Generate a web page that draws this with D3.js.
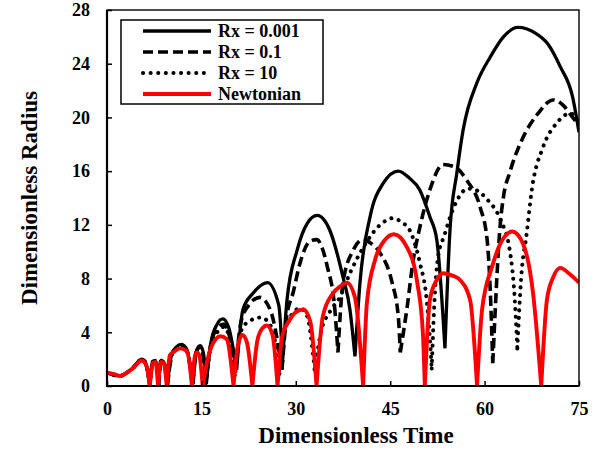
<!DOCTYPE html>
<html>
<head>
<meta charset="utf-8">
<script src="https://cdn.jsdelivr.net/npm/d3@7"></script>
<style>
  body { margin: 0; background: #fff; }
  text { font-family: "Liberation Serif", "Times New Roman", serif; font-weight: bold; }
</style>
</head>
<body>
<div id="chart"></div>
<script>
// chart data
const xTicks = [0, 15, 30, 45, 60, 75];
const yTicks = [0, 4, 8, 12, 16, 20, 24, 28];
const seriesNames = ["Rx = 0.001", "Rx = 0.1", "Rx = 10", "Newtonian"];

const rx0001T = [0, 2, 4, 5.6, 6.2, 6.8, 7.3, 7.7, 8.2, 8.6, 9.0, 9.6, 10.3, 11, 11.8, 12.6, 13.7, 14.2, 14.8, 15.3, 15.8,
  16.5, 17.5, 18.4, 19.3, 20.6, 21.6, 23.2, 25.5, 27.3, 27.9, 28.6, 30.2, 31.8, 33.4, 35.4, 37.5, 38.6, 39.4,
  40.2, 41.8, 43.9, 46.3, 48, 49.7, 51.3, 52.4, 53.7, 54.5, 55.6, 56.6, 58.8, 60.9, 63, 65.3, 68, 70, 72, 74, 75];
const rx0001R = [1.0, 0.75, 1.3, 2.0, 1.6, 0.1, 1.8, 1.9, 0.1, 1.9, 1.8, 0.1, 2.4, 2.9, 3.1, 2.8, 0.2, 2.6, 3.0, 2.5, 0.2,
  3.2, 4.6, 5.0, 4.4, 1.2, 5.7, 6.9, 7.7, 6.0, 1.8, 6.4, 10.1, 12.1, 12.7, 11.6, 8.1, 5.7, 2.2,
  7.7, 12.6, 15.1, 16.0, 15.5, 14.6, 12.6, 10.9, 2.8, 11.6, 15.9, 19.1, 22.6, 24.5, 26.0, 26.7, 26.3, 25.5, 23.8, 21.5, 18.9];

const rx01T = [0, 2, 4, 5.6, 6.2, 6.8, 7.3, 7.7, 8.2, 8.6, 9.0, 9.6, 10.3, 11, 11.8, 12.6, 13.6, 14.2, 14.7, 15.2, 15.7,
  16.5, 17.5, 18.5, 19.3, 20.4, 21.3, 22.5, 24.3, 26, 27.8, 28.5, 29.6, 30.7, 32.3, 33.3, 35, 36.2, 36.7,
  37.5, 39.1, 40.7, 42, 43.4, 45.3, 46.3, 46.6, 47.7, 48.6, 49.7, 51.3, 53.4, 55.3, 57.2, 59.3, 60.4, 60.9, 61.3,
  62.5, 63, 64, 66.1, 68.5, 70.9, 72.5, 74, 75];
const rx01R = [1.0, 0.75, 1.3, 2.0, 1.6, 0.1, 1.8, 1.9, 0.1, 1.9, 1.8, 0.1, 2.3, 2.8, 3.0, 2.7, 0.2, 2.5, 2.9, 2.4, 0.2,
  3.1, 4.3, 4.6, 4.0, 1.0, 4.8, 6.0, 6.6, 5.6, 1.2, 5.0, 7.0, 9.2, 10.8, 10.9, 8.9, 5.7, 2.5,
  7.7, 10.1, 10.9, 10.6, 9.9, 7.7, 5.1, 2.5, 5.9, 9.2, 11.8, 14.6, 16.5, 16.3, 15.3, 13.3, 10.9, 7.1, 1.7,
  12.1, 14.1, 15.9, 18.5, 20.3, 21.3, 20.9, 20.0, 19.4];

const rx10T = [0, 2, 4, 5.6, 6.2, 6.8, 7.3, 7.7, 8.2, 8.6, 9.0, 9.6, 10.3, 11, 11.8, 12.6, 13.6, 14.2, 14.7, 15.2, 15.7,
  16.5, 17.5, 18.6, 19.4, 20.3, 21.2, 22.5, 24.5, 26.2, 27.4, 28.2, 29.5, 30.7, 31.8, 33, 34, 35.5, 37, 38.6,
  40.7, 43.4, 45.5, 46.8, 48.1, 49.7, 50.8, 51.3, 51.6, 52, 52.6, 53.6, 55.1, 57.4, 58.6, 60.4, 62.5, 64, 64.8, 65.2,
  65.8, 66.7, 67.5, 69.3, 71.5, 73.6, 74.5, 75];
const rx10R = [1.0, 0.75, 1.3, 2.0, 1.6, 0.1, 1.8, 1.9, 0.1, 1.9, 1.8, 0.1, 2.3, 2.8, 3.0, 2.7, 0.2, 2.5, 2.9, 2.4, 0.2,
  3.0, 4.0, 4.4, 3.7, 0.8, 4.0, 4.8, 5.1, 4.3, 0.9, 4.2, 5.4, 5.8, 5.2, 1.2, 4.0, 5.6, 6.6, 8.4,
  10.3, 12.0, 12.5, 12.2, 11.6, 9.2, 6.4, 3.6, 1.3, 6.0, 9.6, 11.2, 13.3, 14.7, 14.6, 13.9, 12.4, 10.1, 6.4, 2.8,
  8.0, 11.4, 14.6, 17.8, 19.6, 20.3, 20.0, 19.4];

const newtT = [0, 1, 2.1, 3, 4.1, 5.5, 6.2, 6.8, 7.3, 7.7, 8.1, 8.6, 9.0, 9.5, 10, 10.8, 11.6, 12.7, 13.5, 14.0, 14.3, 14.7, 15.2,
  16.4, 18, 19, 20.1, 20.8, 21.5, 22.2, 23.1, 23.9, 24.7, 25.4, 26.3, 27.1, 27.8, 29, 30, 31.2, 32.3, 33.3,
  34.3, 35.9, 37, 38.1, 39.4, 40.7, 41.3, 42.6, 44.2, 45.6, 47.7, 49.3, 50.2, 50.5, 51.3, 52.4, 53.4, 55, 56.1, 57.7, 58.8,
  59.6, 61.2, 62.5, 64.4, 66.1, 67.7, 69, 69.9, 70.9, 72, 73.6, 75];
const newtR = [1.0, 0.9, 0.75, 0.95, 1.3, 1.9, 1.6, 0, 1.7, 1.8, 0, 1.8, 1.7, 0, 2.3, 2.6, 2.8, 2.6, 0, 2.3, 2.5, 2.2, 0,
  2.7, 3.7, 3.5, 0, 3.0, 3.8, 3.3, 0, 3.4, 4.3, 4.5, 3.8, 0, 3.6, 4.9, 5.5, 5.7, 4.8, 0,
  5.2, 6.9, 7.4, 7.7, 6.6, 0, 6.2, 9.4, 10.9, 11.3, 10.3, 7.7, 3.9, 0, 6.4, 7.9, 8.4, 8.2, 7.9, 6.4, 0,
  5.7, 8.9, 10.6, 11.5, 10.6, 6.9, 0, 6.4, 8.1, 8.8, 8.3, 7.7];

const W = 597, H = 450;
const margin = {top: 10, right: 18, bottom: 64, left: 107};

const svg = d3.select("#chart").append("svg")
  .attr("width", W)
  .attr("height", H);

const x = d3.scaleLinear().domain([0, 75]).range([margin.left, W - margin.right]);
const y = d3.scaleLinear().domain([0, 28]).range([H - margin.bottom, margin.top]);

svg.append("clipPath").attr("id", "plotclip")
  .append("rect")
  .attr("x", x(0)).attr("y", y(28))
  .attr("width", x(75) - x(0)).attr("height", y(0) - y(28));

// split a series at its sharp minima so each arch gets its own smooth curve
function arches(ts, rs) {
  const pts = ts.map((t, i) => [t, rs[i]]);
  const segs = [];
  let start = 0;
  for (let i = 1; i < pts.length - 1; i++) {
    const lo = Math.min(rs[i - 1], rs[i + 1]);
    if (rs[i] < rs[i - 1] && rs[i] < rs[i + 1] && rs[i] < 0.5 * lo) {
      segs.push(pts.slice(start, i + 1));
      start = i;
    }
  }
  segs.push(pts.slice(start));
  return segs;
}

const line = d3.line()
  .x(d => x(d[0]))
  .y(d => y(d[1]))
  .curve(d3.curveMonotoneX);

const styles = [
  {color: "#000", width: 3.3, dash: null, cap: "butt"},
  {color: "#000", width: 3.6, dash: "10,5", cap: "butt"},
  {color: "#000", width: 4, dash: "0.1,7.5", cap: "round"},
  {color: "#ff0000", width: 3.9, dash: null, cap: "butt"}
];
const data = [[rx0001T, rx0001R], [rx01T, rx01R], [rx10T, rx10R], [newtT, newtR]];

const plot = svg.append("g").attr("clip-path", "url(#plotclip)");
data.forEach((s, i) => {
  const st = styles[i];
  plot.append("path")
    .attr("d", arches(s[0], s[1]).map(seg => line(seg)).join(""))
    .attr("fill", "none")
    .attr("stroke", st.color)
    .attr("stroke-width", st.width)
    .attr("stroke-dasharray", st.dash)
    .attr("stroke-linecap", st.cap)
    .attr("stroke-linejoin", "round");
});

// axes
const xAxis = svg.append("g")
  .attr("transform", `translate(0,${y(0)})`)
  .call(d3.axisBottom(x).tickValues(xTicks).tickSizeInner(-5).tickSizeOuter(0).tickPadding(16));
const yAxis = svg.append("g")
  .attr("transform", `translate(${x(0)},0)`)
  .call(d3.axisLeft(y).tickValues(yTicks).tickSizeInner(-5).tickSizeOuter(0).tickPadding(17));

[xAxis, yAxis].forEach(g => {
  g.select(".domain").remove();
  g.selectAll("line").attr("stroke", "#000").attr("stroke-width", 1.5);
  g.selectAll("text")
    .attr("font-size", "18px")
    .attr("font-family", "Liberation Serif, Times New Roman, serif")
    .attr("font-weight", "bold")
    .attr("fill", "#000");
});

// frame
svg.append("rect")
  .attr("x", x(0)).attr("y", y(28))
  .attr("width", x(75) - x(0)).attr("height", y(0) - y(28))
  .attr("fill", "none").attr("stroke", "#000").attr("stroke-width", 1.4);
svg.append("line")
  .attr("x1", x(0)).attr("x2", x(75)).attr("y1", y(0)).attr("y2", y(0))
  .attr("stroke", "#000").attr("stroke-width", 2.2);
svg.append("line")
  .attr("x1", x(0)).attr("x2", x(0)).attr("y1", y(0) + 1).attr("y2", y(28))
  .attr("stroke", "#000").attr("stroke-width", 2.2);

// axis titles
svg.append("text")
  .attr("x", 356).attr("y", 443)
  .attr("text-anchor", "middle")
  .attr("font-size", "23px")
  .text("Dimensionless Time");
svg.append("text")
  .attr("transform", "translate(37,198) rotate(-90)")
  .attr("text-anchor", "middle")
  .attr("font-size", "23px")
  .text("Dimensionless Radius");

// legend
const legend = svg.append("g");
legend.append("rect")
  .attr("x", 121).attr("y", 20).attr("width", 202).attr("height", 84)
  .attr("fill", "#fff").attr("stroke", "#000").attr("stroke-width", 1.5);
seriesNames.forEach((name, i) => {
  const st = styles[i];
  const ry = 31 + i * 21;
  legend.append("line")
    .attr("x1", 143).attr("x2", 211).attr("y1", ry).attr("y2", ry)
    .attr("stroke", st.color)
    .attr("stroke-width", st.width)
    .attr("stroke-dasharray", st.dash)
    .attr("stroke-linecap", st.cap);
  legend.append("text")
    .attr("x", 218).attr("y", ry + 6)
    .attr("font-size", "18px")
    .text(name);
});
</script>
</body>
</html>
